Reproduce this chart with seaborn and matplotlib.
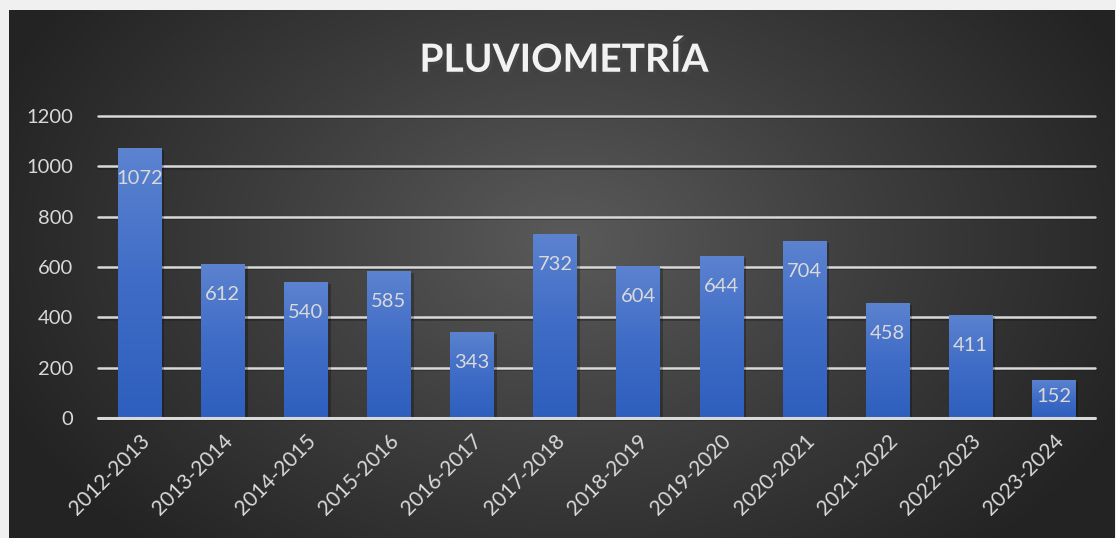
import numpy as np
import pandas as pd
import matplotlib
matplotlib.use("Agg")
import matplotlib.pyplot as plt
import matplotlib.patheffects as pe
from matplotlib.colors import LinearSegmentedColormap
import seaborn as sns

campaigns = ["2012-2013", "2013-2014", "2014-2015", "2015-2016", "2016-2017", "2017-2018",
             "2018-2019", "2019-2020", "2020-2021", "2021-2022", "2022-2023", "2023-2024"]
rainfall = [1072, 612, 540, 585, 343, 732, 604, 644, 704, 458, 411, 152]
yticks = [0, 200, 400, 600, 800, 1000, 1200]
title = "PLUVIOMETRÍA"

df = pd.DataFrame({"campaign": campaigns, "rain": rainfall})

sns.set_theme(style="white")
plt.rcParams["font.family"] = ["Lato", "DejaVu Sans"]

W, H = 1116, 538
fig = plt.figure(figsize=(W / 100, H / 100), dpi=100)
fig.patch.set_facecolor("#f0f0f0")

# dark radial-gradient chart background
bg = fig.add_axes([9 / W, 0, (1115 - 9) / W, 528 / H])
bg.set_axis_off()
yy, xx = np.mgrid[0:528, 0:1106]
cx, cy = 560, 230
r = np.sqrt(((xx - cx) / 620.0) ** 2 + ((yy - cy) / 420.0) ** 2)
r = np.clip(r, 0, 1)
bgcmap = LinearSegmentedColormap.from_list("bg", ["#5a5a5a", "#3d3d3d", "#232323"])
bg.imshow(r, cmap=bgcmap, aspect="auto", extent=[0, 1, 0, 1], vmin=0, vmax=1)
bg.set_xlim(0, 1)
bg.set_ylim(0, 1)

# plot area: x 98..1095, y 116(1200)..418(0)
left, right = 98 / W, 1095 / W
top_y, bot_y = 116, 418
ax = fig.add_axes([left, 1 - bot_y / H, right - left, (bot_y - top_y) / H])
ax.patch.set_alpha(0)

sns.barplot(data=df, x="campaign", y="rain", ax=ax, color="#4472c4", width=0.52,
            saturation=1, zorder=3, linewidth=0, edgecolor="none")
ax.set_xlim(-0.5, len(campaigns) - 0.5)
ax.set_ylim(0, 1200)
ax.set_yticks(yticks)
ax.set_yticklabels([str(v) for v in yticks])
ax.set_xlabel("")
ax.set_ylabel("")
for s in ax.spines.values():
    s.set_visible(False)

# gridlines
for v in yticks:
    ax.axhline(v, color="#d9d9d9", lw=2.2 if v == 0 else 1.8, zorder=1 if v else 5,
               clip_on=False,
               path_effects=[pe.SimpleLineShadow(offset=(0, -1), alpha=0.5), pe.Normal()])

# gradient fill of bars + soft shadow
grad = np.linspace(0, 1, 256).reshape(-1, 1)
barcmap = LinearSegmentedColormap.from_list("bar", ["#2e5fbe", "#3f6cc6", "#5c83d0"])
for p in ax.patches:
    x0, w, h = p.get_x(), p.get_width(), p.get_height()
    shadow = plt.Rectangle((x0 + 0.04, 0), w, h - 8, color="black", alpha=0.25, zorder=2,
                           lw=0)
    ax.add_patch(shadow)
    im = ax.imshow(grad, cmap=barcmap, extent=[x0, x0 + w, 0, h], origin="lower",
                   aspect="auto", zorder=3.5)
    im.set_clip_path(p)
ax.set_xlim(-0.5, len(campaigns) - 0.5)
ax.set_ylim(0, 1200)

# data labels (inside end)
pt_per_unit = (bot_y - top_y) / 1200 * 0.72
for i, v in enumerate(rainfall):
    hpt = v * pt_per_unit
    off = -min(22, hpt * 0.45)
    ax.annotate(str(v), (i, v), xytext=(0, off), textcoords="offset points",
                ha="center", va="center", fontsize=14.5, color="#d9d9d9", zorder=6)

ax.tick_params(axis="both", length=0, colors="#d9d9d9", labelsize=14.5)
ax.tick_params(axis="y", pad=18)
plt.setp(ax.get_xticklabels(), rotation=45, ha="right", rotation_mode="anchor",
         fontsize=15)
ax.tick_params(axis="x", pad=9)

fig.text(564 / W, 1 - 60 / H, title, ha="center", va="center", fontsize=28,
         fontweight="bold", color="#f2f2f2",
         path_effects=[pe.SimplePatchShadow(offset=(2, -2), alpha=0.6), pe.Normal()])

fig.savefig("out.png", dpi=100, facecolor=fig.get_facecolor())
